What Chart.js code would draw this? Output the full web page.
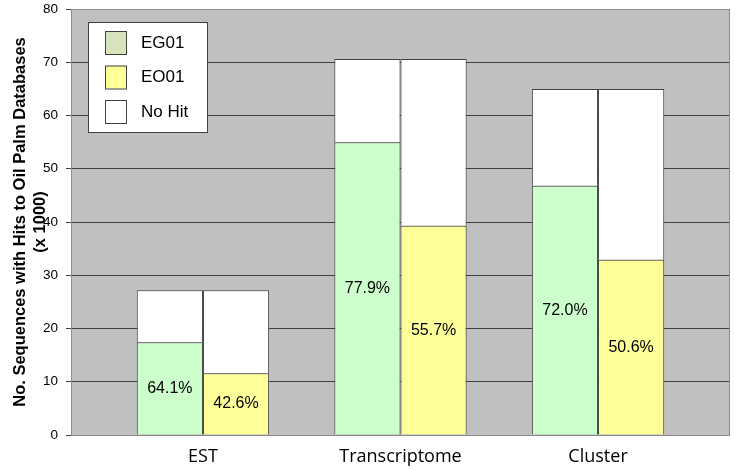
<!DOCTYPE html>
<html>
<head>
<meta charset="utf-8">
<script src="https://cdn.jsdelivr.net/npm/chart.js@4"></script>
<style>
    body { margin: 0; background: #fff; }
    #wrap { position: relative; width: 735px; height: 470px; }
</style>
</head>
<body>
<div id="wrap"><canvas id="chart"></canvas></div>
<script>
// データ
const categories = ['EST', 'Transcriptome', 'Cluster'];
const eg01Hit = [17.4, 55.0, 46.8];
const eg01NoHit = [9.8, 15.6, 18.2];
const eo01Hit = [11.6, 39.3, 32.9];
const eo01NoHit = [15.6, 31.3, 32.1];
const eg01Pct = ['64.1%', '77.9%', '72.0%'];
const eo01Pct = ['42.6%', '55.7%', '50.6%'];
const legendLabels = ['EG01', 'EO01', 'No Hit'];
const yTitle = ['No. Sequences with Hits to Oil Palm Databases', '(x 1000)'];

const X_MIN = -0.668, X_MAX = 2.668;

function toPoints(arr) {
    return arr.map((v, i) => ({ x: i, y: v }));
}

// 背景とプロット枠
const plotBackground = {
    id: 'plotBackground',
    beforeDraw(chart) {
        const { ctx, chartArea: a } = chart;
        ctx.save();
        ctx.fillStyle = '#c0c0c0';
        ctx.fillRect(a.left, a.top, a.right - a.left, a.bottom - a.top);
        ctx.restore();
    },
    beforeDatasetsDraw(chart) {
        const { ctx, chartArea: a } = chart;
        ctx.save();
        ctx.strokeStyle = '#8c8c8c';
        ctx.lineWidth = 1;
        ctx.strokeRect(a.left + 0.5, a.top + 0.5, a.right - a.left - 1, a.bottom - a.top);
        ctx.restore();
    }
};

// 割合ラベル
const pctLabels = {
    id: 'pctLabels',
    afterDatasetsDraw(chart) {
        const ctx = chart.ctx;
        ctx.save();
        ctx.font = '16px "Liberation Sans", Arial, sans-serif';
        ctx.fillStyle = '#000';
        ctx.textAlign = 'center';
        ctx.textBaseline = 'middle';
        [[0, eg01Pct], [2, eo01Pct]].forEach(([di, labels]) => {
            chart.getDatasetMeta(di).data.forEach((bar, i) => {
                ctx.fillText(labels[i], bar.x, (bar.y + bar.base) / 2);
            });
        });
        ctx.restore();
    }
};

// 凡例（プロット内）
const innerLegend = {
    id: 'innerLegend',
    afterDraw(chart) {
        const ctx = chart.ctx;
        const a = chart.chartArea;
        const colors = ['#d8e4bc', '#ffff99', '#ffffff'];
        const x = a.left + 17, y = a.top + 13, w = 120, h = 111;
        ctx.save();
        ctx.fillStyle = '#fff';
        ctx.fillRect(x, y, w, h);
        ctx.strokeStyle = '#404040';
        ctx.lineWidth = 1;
        ctx.strokeRect(x + 0.5, y + 0.5, w - 1, h - 1);
        ctx.font = '17px "Liberation Sans", Arial, sans-serif';
        ctx.textBaseline = 'middle';
        ctx.textAlign = 'left';
        legendLabels.forEach((label, i) => {
            const sy = y + 9 + i * 34.5;
            ctx.fillStyle = colors[i];
            ctx.fillRect(x + 17, sy, 21, 23);
            ctx.strokeStyle = '#404040';
            ctx.strokeRect(x + 17.5, sy + 0.5, 21, 23);
            ctx.fillStyle = '#000';
            ctx.fillText(label, x + 53, sy + 12);
        });
        ctx.restore();
    }
};

const barBorder = '#404040';

new Chart(document.getElementById('chart'), {
    type: 'bar',
    data: {
        datasets: [
            { label: 'EG01', data: toPoints(eg01Hit), stack: 'EG', backgroundColor: '#ccffcc' },
            { label: 'No Hit', data: toPoints(eg01NoHit), stack: 'EG', backgroundColor: '#ffffff' },
            { label: 'EO01', data: toPoints(eo01Hit), stack: 'EO', backgroundColor: '#ffff99' },
            { label: 'No Hit', data: toPoints(eo01NoHit), stack: 'EO', backgroundColor: '#ffffff' }
        ].map(d => Object.assign(d, {
            borderColor: barBorder,
            borderWidth: 1,
            categoryPercentage: 0.67,
            barPercentage: 1.0
        }))
    },
    options: {
        responsive: true,
        maintainAspectRatio: false,
        animation: false,
        layout: { padding: { top: 9, right: 5, left: 0, bottom: 0 } },
        plugins: {
            legend: { display: false },
            tooltip: { enabled: false }
        },
        scales: {
            x: {
                type: 'linear',
                stacked: true,
                offset: false,
                bounds: 'data',
                min: X_MIN,
                max: X_MAX,
                afterBuildTicks: s => {
                    s.ticks = categories.map((c, i) => ({ value: i }));
                    s.min = X_MIN;
                    s.max = X_MAX;
                },
                afterFit: s => { s.height = 35; },
                grid: { display: false },
                border: { display: false },
                ticks: {
                    callback: v => categories[v],
                    padding: 3,
                    color: '#000',
                    font: { family: '"Open Sans", sans-serif', size: 18 },
                    maxRotation: 0,
                    autoSkip: false
                }
            },
            y: {
                stacked: true,
                min: 0,
                max: 80,
                afterFit: s => {
                    s.width = 71;
                    s.paddingTop = 0;
                    s.paddingBottom = 0;
                },
                grid: {
                    color: ctx => ctx.tick && ctx.tick.value === 80 ? '#9a9a9a' : '#404040',
                    tickColor: '#404040',
                    tickLength: 5
                },
                border: { color: '#8c8c8c' },
                ticks: {
                    stepSize: 10,
                    padding: 8,
                    color: '#000',
                    font: { family: '"Liberation Sans", Arial, sans-serif', size: 13.5 }
                },
                title: {
                    display: true,
                    text: yTitle,
                    color: '#000',
                    padding: { top: 10, bottom: 0 },
                    font: { family: '"Liberation Sans", Arial, sans-serif', size: 16.5, weight: 'bold', lineHeight: 1.22 }
                }
            }
        }
    },
    plugins: [plotBackground, pctLabels, innerLegend]
});
</script>
</body>
</html>
